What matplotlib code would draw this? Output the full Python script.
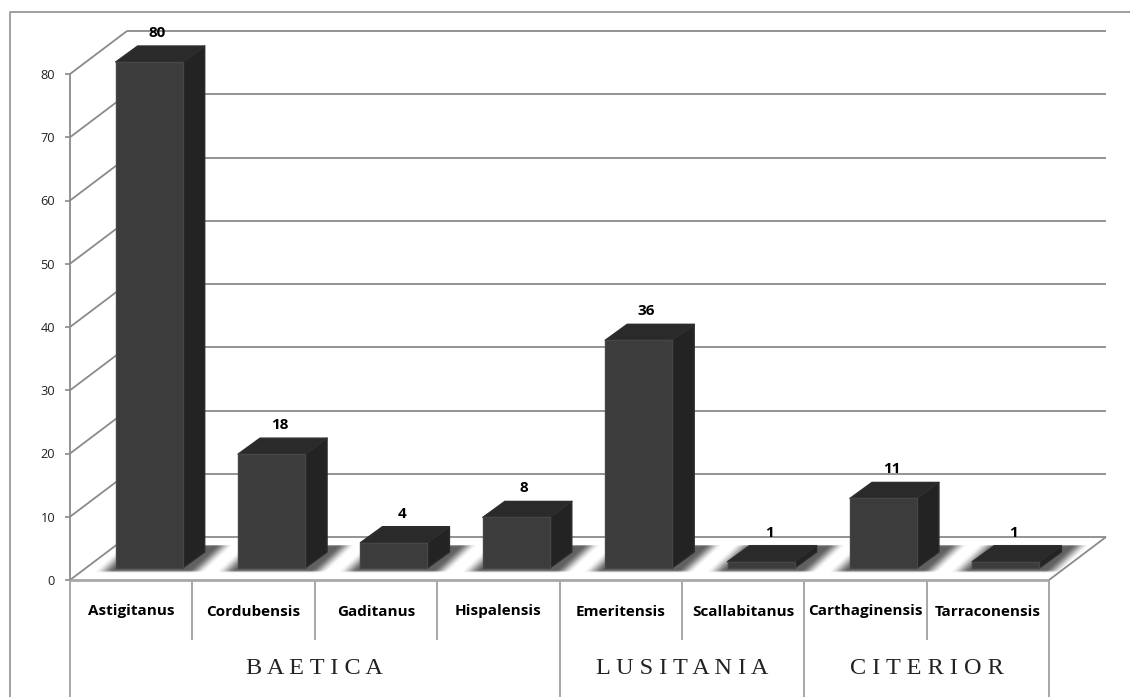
import numpy as np
import matplotlib
matplotlib.use("Agg")
import matplotlib.pyplot as plt
from matplotlib.lines import Line2D
from matplotlib.patches import Polygon

# Inscriptions per conventus, grouped by province
conventus = ["Astigitanus", "Cordubensis", "Gaditanus", "Hispalensis",
             "Emeritensis", "Scallabitanus", "Carthaginensis", "Tarraconensis"]
counts = [80, 18, 4, 8, 36, 1, 11, 1]
provinces = ["BAETICA", "LUSITANIA", "CITERIOR"]
province_spans = [(0, 4), (4, 6), (6, 8)]
y_ticks = [0, 10, 20, 30, 40, 50, 60, 70, 80]

W, H = 1130, 697
fig = plt.figure(figsize=(W / 100, H / 100), dpi=100, facecolor="white")

# Plot box of the front face: 8 categories wide, 0-80 tall
L, R, B, T = 70, 1049, 580, 74
ax = fig.add_axes([L / W, 1 - B / H, (R - L) / W, (B - T) / H])
ax.axis("off")

px = 8 / (R - L)      # data units per horizontal pixel
py = 80 / (B - T)     # data units per vertical pixel
DX, DY = 57 * px, 43 * py          # wall depth
FX, FY = 18 * px, 12 * py          # bar offset from the front edge of the floor
BX, BY = 22 * px, 16 * py          # bar depth
BW = 67 * px                       # bar width
GRID = "#8a8a8a"


def line(xs, ys, color=GRID, lw=1.3, z=1):
    ax.plot(xs, ys, color=color, lw=lw, zorder=z, clip_on=False,
            solid_capstyle="butt")


def smooth(t):
    t = np.clip(t, 0, 1)
    return t * t * (3 - 2 * t)


def floor_shadow():
    """Blurred parallelogram under a bar, returned as an RGBA image and its pixel size."""
    wid, hei = 150, 29
    xp, yp = np.meshgrid(np.arange(wid) + 0.5, np.arange(hei) + 0.5)
    u = xp - yp * 30 / 27
    alpha = (smooth(u / 20) * smooth((112 - u) / 18)
             * smooth(yp / 3) * smooth((27.5 - yp) / 1.5))
    img = np.zeros((hei, wid, 4))
    img[..., :3] = 0.38
    img[..., 3] = alpha
    return img, wid, hei


# Outer frame: only the top and left edges fall inside the image
fig.add_artist(Line2D([10 / W, 10 / W, 1], [0, 1 - 12 / H, 1 - 12 / H],
                      color="#a0a0a0", lw=1.4, transform=fig.transFigure))

# Back wall gridlines and side wall diagonals
for v in y_ticks:
    line([0, DX], [v, v + DY], z=4 if v == 0 else 1)
    line([DX, 8 + DX], [v + DY, v + DY], z=3 if v == 0 else 1)
    line([-5 * px, 0], [v, v], lw=1.2)
    ax.text(-15 * px, v - 1.5 * py, str(v), ha="right", va="center", fontsize=9.2,
            color="#222222", family="Open Sans")
line([0, 0], [0, 80])

# Floor
ax.add_patch(Polygon([(0, 0), (8, 0), (8 + DX, DY), (DX, DY)], closed=True,
                     fc="white", ec="none", zorder=2, clip_on=False))
line([0, 8], [0, 0], color="#a8a8a8", lw=2, z=4)
line([8, 8 + DX], [0, DY], z=4)

# Extruded bars with their floor shadows
shadow_img, shadow_w, shadow_h = floor_shadow()
for i, n in enumerate(counts):
    x0 = i + 0.5 - BW / 2 + FX
    x1 = x0 + BW
    y0 = FY
    y1 = y0 + n

    sx = x0 - 24 * px
    sy = y0 - 5 * py
    im = ax.imshow(shadow_img, extent=(sx, sx + shadow_w * px, sy, sy + shadow_h * py),
                   origin="lower", aspect="auto", zorder=3, interpolation="bilinear")
    im.set_clip_on(False)

    ax.add_patch(Polygon([(x1, y0), (x1 + BX, y0 + BY), (x1 + BX, y1 + BY), (x1, y1)],
                         closed=True, fc="#232323", ec="#2b2b2b", lw=1, joinstyle="round",
                         zorder=5, clip_on=False))
    ax.add_patch(Polygon([(x0, y1), (x1, y1), (x1 + BX, y1 + BY), (x0 + BX, y1 + BY)],
                         closed=True, fc="#2a2a2a", ec="#2e2e2e", lw=1, joinstyle="round",
                         zorder=5, clip_on=False))
    ax.add_patch(Polygon([(x0, y0), (x1, y0), (x1, y1), (x0, y1)],
                         closed=True, fc="#3c3c3c", ec="#464646", lw=1, joinstyle="round",
                         zorder=6, clip_on=False))
    ax.text((x0 + x1) / 2 + 8 * px, y1 + BY + 6 * py, str(n), ha="center", va="bottom",
            fontsize=11, fontweight="bold", color="#000000",
            family="Open Sans", zorder=8)

ax.set_xlim(0, 8)
ax.set_ylim(0, 80)

# Two-level category axis below the floor
for i, name in enumerate(conventus):
    ax.text(i + 0.5, -31.5 * py, name, ha="center", va="center", fontsize=11,
            fontweight="bold", color="#000000", family="Open Sans")
for i in range(1, 8):
    if i not in (4, 6):
        line([i, i], [0, -60 * py], color="#a0a0a0")
for i in (0, 4, 6, 8):
    line([i, i], [0, -117 * py], color="#a0a0a0")
for name, (a, b) in zip(provinces, province_spans):
    ax.text((a + b) / 2, -88.5 * py, " ".join(name), ha="center", va="center",
            fontsize=17.5, color="#222222", family="Liberation Serif")

fig.savefig("out.png", dpi=100, facecolor="white")
